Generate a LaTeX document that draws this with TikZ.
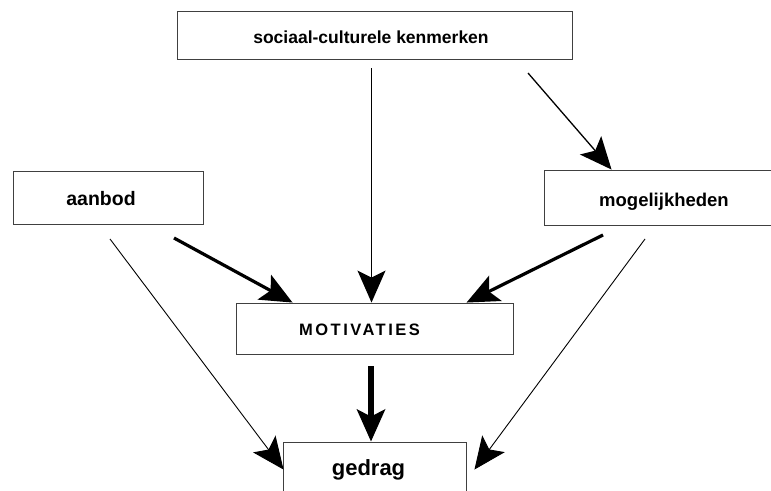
\documentclass[tikz,border=0pt]{standalone}
\usepackage{fontspec}
\setmainfont{Liberation Sans}
\newfontfamily\spacedfont[LetterSpace=15]{Liberation Sans}
\usetikzlibrary{arrows.meta,calc}
\begin{document}
\begin{tikzpicture}[x=1pt,y=-1pt,
  box/.style={draw=black!75,line width=0.9pt,fill=white,inner sep=0pt,text depth=0pt},
  headarrow/.style={-{Stealth[length=32pt,width=28pt,inset=7pt]}},
  thinline/.style={headarrow,line width=1.3pt},
  finerline/.style={headarrow,line width=0.9pt},
  midline/.style={headarrow,line width=3.2pt},
  thickline/.style={headarrow,line width=5.5pt}]
\useasboundingbox (0,0) rectangle (771,490);
\node[box,minimum width=395pt,minimum height=48pt,text height=16pt,font=\bfseries\fontsize{17.5}{20}\selectfont] (top) at (374.5,35) {\hspace*{-7pt}sociaal-culturele kenmerken};
\node[box,minimum width=190pt,minimum height=53pt,text height=15pt,font=\bfseries\fontsize{19.5}{22}\selectfont] (aan) at (108,197.5) {\hspace*{-14pt}aanbod};
\node[box,minimum width=228pt,minimum height=55pt,text height=18pt,font=\bfseries\fontsize{18.5}{21}\selectfont] (mog) at (658,197.5) {\hspace*{12pt}mogelijkheden};
\node[box,minimum width=277pt,minimum height=51pt,text height=13pt] (mot) at (374.5,328.5) {\hspace*{-30pt}\spacedfont\bfseries\fontsize{16.5}{19}\selectfont MOTIVATIES};
\node[box,minimum width=183pt,minimum height=58pt,text height=8pt,font=\bfseries\fontsize{22}{25}\selectfont] (ged) at (374.5,471) {\hspace*{-12pt}gedrag};
\coordinate (s1) at (371.5,68);
\coordinate (s2) at (528,73);
\coordinate (s3) at (174,238);
\coordinate (s4) at (603,235);
\coordinate (s5) at (110,239);
\coordinate (s6) at (645,239);
\coordinate (s7) at (371,366);
\draw[thinline] (s1) -- (s1 |- mot.north);
\draw[thinline] (s2) -- ($(mog.north west)+(68,0)$);
\draw[midline] (s3) -- ($(mot.north west)+(57,0)$);
\draw[midline] (s4) -- ($(mot.north west)+(231,0)$);
\draw[finerline] (s5) -- ($(ged.north west)+(1,28)$);
\draw[finerline] (s6) -- ($(ged.north east)+(8,28)$);
\draw[thickline] (s7) -- (s7 |- ged.north);
\end{tikzpicture}
\end{document}
